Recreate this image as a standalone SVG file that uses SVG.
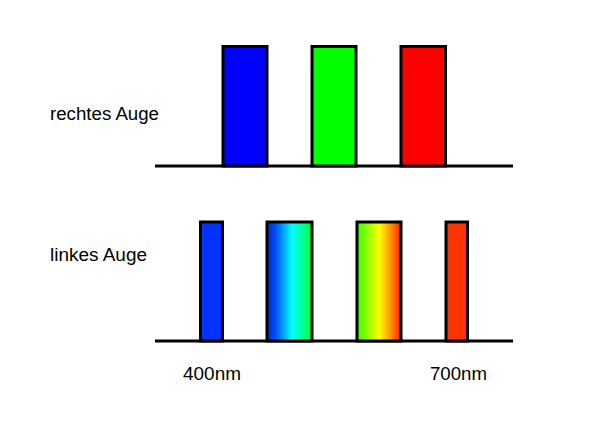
<svg xmlns="http://www.w3.org/2000/svg" width="600" height="437" viewBox="0 0 600 437">
<style>
.bar{stroke:#000;stroke-width:3}
.axis{stroke:#000;stroke-width:3;fill:none}
.lbl{font-family:"Liberation Sans",Arial,sans-serif;font-size:17.5px;fill:#000}
</style>
<defs>
<linearGradient id="gBC" x1="0" y1="0" x2="1" y2="0">
<stop offset="0" stop-color="#0028c8"/>
<stop offset="0.2" stop-color="#0055ff"/>
<stop offset="0.55" stop-color="#00ffff"/>
<stop offset="1" stop-color="#00ff33"/>
</linearGradient>
<linearGradient id="gGR" x1="0" y1="0" x2="1" y2="0">
<stop offset="0" stop-color="#33ff00"/>
<stop offset="0.5" stop-color="#ffff00"/>
<stop offset="0.75" stop-color="#ff9900"/>
<stop offset="1" stop-color="#ff2000"/>
</linearGradient>
</defs>
<rect width="600" height="437" fill="#fff"/>
<g id="axes">
<line class="axis" x1="155" y1="166" x2="513" y2="166"/>
<line class="axis" x1="155" y1="341" x2="513" y2="341"/>
</g>
<g id="right-blue"><rect class="bar" x="223" y="46.5" width="44" height="119.5" fill="#0000ff"/></g>
<g id="right-green"><rect class="bar" x="312" y="46.5" width="44" height="119.5" fill="#00ff00"/></g>
<g id="right-red"><rect class="bar" x="401" y="46.5" width="44.5" height="119.5" fill="#ff0000"/></g>
<g id="left-blue"><rect class="bar" x="200.5" y="222" width="22" height="119" fill="#0033ff"/></g>
<g id="left-bluecyan"><rect class="bar" x="267" y="222" width="45" height="119" fill="url(#gBC)"/></g>
<g id="left-greenred"><rect class="bar" x="357" y="222" width="44" height="119" fill="url(#gGR)"/></g>
<g id="left-red"><rect class="bar" x="446" y="222" width="21.5" height="119" fill="#ff3300"/></g>
<g id="labels">
<text class="lbl" x="50" y="119.5" textLength="109" lengthAdjust="spacingAndGlyphs">rechtes Auge</text>
<text class="lbl" x="50" y="261" textLength="97" lengthAdjust="spacingAndGlyphs">linkes Auge</text>
<text class="lbl" x="183" y="379.5" textLength="58" lengthAdjust="spacingAndGlyphs">400nm</text>
<text class="lbl" x="430" y="379.5" textLength="57" lengthAdjust="spacingAndGlyphs">700nm</text>
</g>
</svg>
